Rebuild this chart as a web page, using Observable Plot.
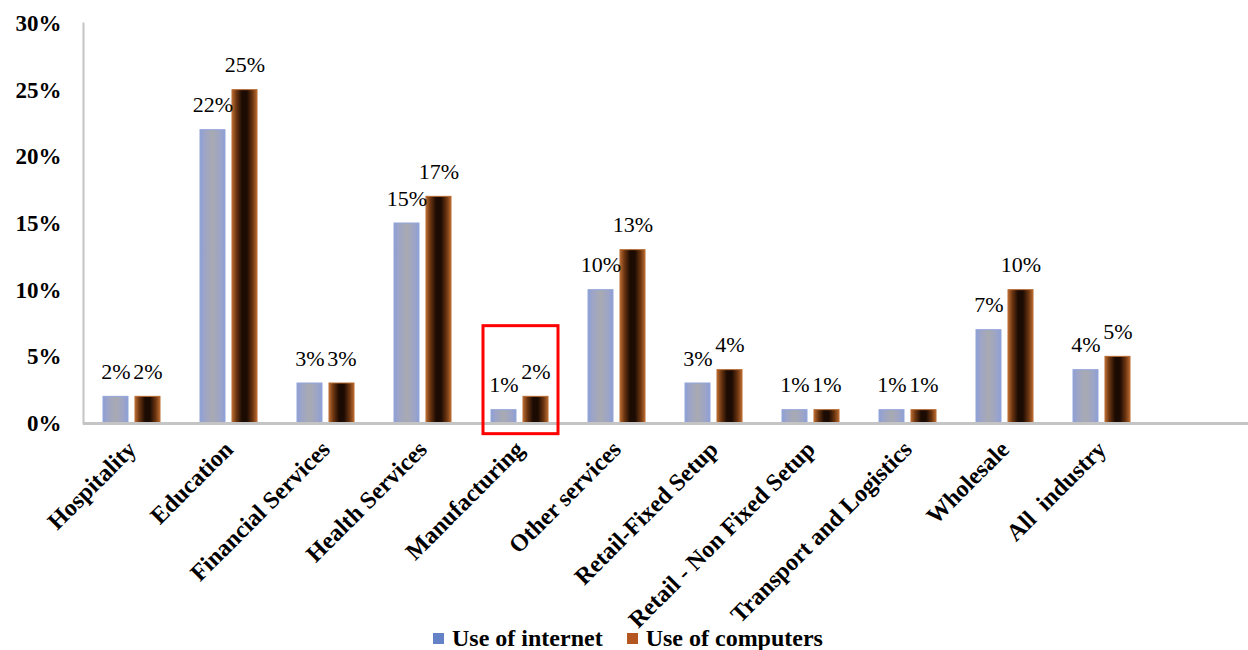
<!DOCTYPE html>
<html>
<head>
<meta charset="utf-8">
<script src="https://cdn.jsdelivr.net/npm/d3@7"></script>
<script src="https://cdn.jsdelivr.net/npm/@observablehq/plot@0.6"></script>
<style>
  html, body { margin: 0; padding: 0; background: #fff; }
  body { width: 1248px; height: 650px; overflow: hidden; font-family: "Liberation Serif", "Times New Roman", serif; }
  #chart svg { display: block; overflow: visible; }
  #chart g[aria-label="x-axis tick label"] text,
  #chart g[aria-label="y-axis tick label"] text { font-weight: bold; fill: #000; white-space: pre; }
  .legend { display: flex; justify-content: center; align-items: center; height: 24px; line-height: 24px;
            font: bold 24px "Liberation Serif", "Times New Roman", serif; color: #000; padding-left: 8px; }
  .legend .item { display: flex; align-items: center; }
  .legend .item + .item { margin-left: 24px; }
  .legend .sw { width: 11px; height: 11px; margin-right: 8px; }
</style>
</head>
<body>
<div id="chart"></div>
<div class="legend">
  <div class="item"><span class="sw" style="background:#6582c6"></span>Use of internet</div>
  <div class="item"><span class="sw" style="background:#b4561f"></span>Use of computers</div>
</div>
<script>
// Share of firms by industry (%)
const categories = [
  "Hospitality", "Education", "Financial Services", "Health Services", "Manufacturing",
  "Other services", "Retail-Fixed Setup", "Retail - Non Fixed Setup",
  "Transport and Logistics", "Wholesale", "All  industry"
];
const internet  = [2, 22, 3, 15, 1, 10, 3, 1, 1, 7, 4];
const computers = [2, 25, 3, 17, 2, 13, 4, 1, 1, 10, 5];
const yTicks = [0, 5, 10, 15, 20, 25, 30];

// highlighted category and the vertical extent of its box (in %)
const highlight = ["Manufacturing"];
const highlightRange = [-0.8, 7.3];

const internetData = categories.map((c, i) => ({category: c, value: internet[i]}));
const computersData = categories.map((c, i) => ({category: c, value: computers[i]}));
const highlightData = highlight.map(c => ({category: c, lo: highlightRange[0], hi: highlightRange[1]}));

const fmt = d => d + "%";
const axisGray = "#c4c4c4";
const serif = "'Liberation Serif', 'Times New Roman', serif";

const chart = Plot.plot({
  width: 1248,
  height: 626,
  marginLeft: 83,
  marginRight: 0,
  marginTop: 23,
  marginBottom: 203,
  style: {fontFamily: serif, background: "#fff", color: "#000", overflow: "visible"},
  x: {domain: categories, range: [83, 1150], padding: 0},
  y: {domain: [0, 30]},
  marks: [
    Plot.frame({anchor: "left", stroke: axisGray, strokeWidth: 2}),
    Plot.axisY({ticks: yTicks, tickSize: 0, tickPadding: 22, tickFormat: fmt, fontSize: 23, fontFamily: serif, label: null}),
    Plot.axisX({tickRotate: -45, tickSize: 0, tickPadding: 22, dx: 0, fontSize: 24, fontFamily: serif, label: null}),
    Plot.barY(internetData, {x: "category", y: "value", fill: "url(#gradInternet)", stroke: "#93a5da", strokeWidth: 1, insetLeft: 20, insetRight: 52}),
    Plot.barY(computersData, {x: "category", y: "value", fill: "url(#gradComputers)", stroke: "#b8692f", strokeWidth: 1, insetLeft: 52, insetRight: 20}),
    Plot.ruleY([0], {stroke: axisGray, strokeWidth: 3}),
    Plot.text(internetData, {x: "category", y: "value", text: d => fmt(d.value), dx: -16, dy: -25, fontSize: 22, fontFamily: serif, fill: "#000"}),
    Plot.text(computersData, {x: "category", y: "value", text: d => fmt(d.value), dx: 16, dy: -25, fontSize: 22, fontFamily: serif, fill: "#000"}),
    Plot.barY(highlightData, {x: "category", y1: "lo", y2: "hi", fill: "none", stroke: "#ff0000", strokeWidth: 3, insetLeft: 12, insetRight: 10})
  ]
});

// gradient fills for the bars
const ns = "http://www.w3.org/2000/svg";
const defs = document.createElementNS(ns, "defs");
function gradient(id, stops) {
  const g = document.createElementNS(ns, "linearGradient");
  g.setAttribute("id", id);
  g.setAttribute("x1", "0"); g.setAttribute("x2", "1");
  g.setAttribute("y1", "0"); g.setAttribute("y2", "0");
  for (const [o, c] of stops) {
    const s = document.createElementNS(ns, "stop");
    s.setAttribute("offset", o);
    s.setAttribute("stop-color", c);
    g.appendChild(s);
  }
  defs.appendChild(g);
}
gradient("gradInternet", [[0, "#8e9fd6"], [0.2, "#9ea5c6"], [0.5, "#a8aab2"], [0.8, "#9ea5c6"], [1, "#8e9fd6"]]);
gradient("gradComputers", [[0, "#b86a30"], [0.18, "#6a3410"], [0.4, "#1c0b02"], [0.6, "#1c0b02"], [0.82, "#6a3410"], [1, "#b86a30"]]);
chart.insertBefore(defs, chart.firstChild);

document.getElementById("chart").appendChild(chart);
</script>
</body>
</html>
